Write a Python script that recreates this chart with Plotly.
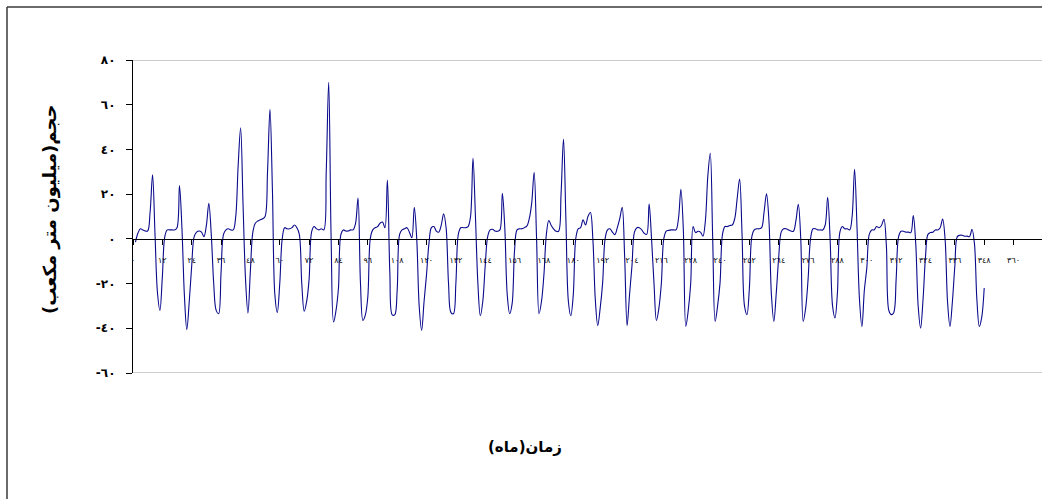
import plotly.graph_objects as go

# Monthly storage change (million cubic metres), months 1..348, one row per year
monthly_change = [
    -1.5, 2.5, 4.5, 4, 3.5, 3.5, 12, 28.6, 2, -24, -32, -17,
    1, 4, 4, 4, 4, 5, 23.8, 5, -25, -40.6, -28, -12,
    1, 3, 3.5, 3, 1, 6, 15.9, 2, -20, -32, -33.5, -15,
    2, 4, 4.5, 4, 4, 10, 33, 49.7, 15, -18, -33.2, -14,
    3, 7, 8, 8.5, 9, 10, 30, 57.9, 22, -25, -32.9, -20,
    0, 5, 4.5, 4.5, 5, 6.2, 5, 2, -20, -32.4, -28, -18,
    3, 5.5, 4.5, 4, 4.5, 4, 30, 70, 0, -37.2, -32, -22,
    2, 4, 3.5, 3.5, 4, 4, 7, 18.2, -20, -36.5, -34, -26,
    0, 4, 5, 5.5, 7, 7.5, 5, 26.3, -15, -34, -34, -23,
    2, 4, 4.5, 5, 3, 0.5, 14.1, 0, -30, -40.9, -28, -16,
    -2, 5, 5.5, 3.5, 3, 6, 11.2, 5, -20, -33, -33.5, -20,
    2, 5, 5, 5, 5.5, 10, 36, 10, -20, -34.4, -28, -12,
    1, 4, 4.3, 3.5, 3.4, 4, 20.4, 5, -25, -33.5, -29, -5,
    4, 4.5, 4.5, 5, 5.7, 9, 16, 29.8, 0, -33.5, -28, -16,
    2, 8.2, 6, 4.4, 3.4, 3.4, 20, 44.6, 8, -28, -34.4, -25,
    0, 4.5, 5, 8.5, 6.2, 10, 11.8, 0, -27, -38.8, -31, -19.7,
    0, 4, 4.5, 3, 1.9, 5, 9, 14.1, -8, -38.8, -25, -12,
    3, 5, 5, 4, 2.5, 2, 15.6, 0, -20, -36.5, -31, -20,
    0, 3.5, 3.8, 4, 4, 4, 9, 22.2, 4, -39.2, -32, -20,
    5.5, 2.8, 3.4, 3, 1.2, 8, 28, 38.3, 0, -36.9, -30, -19.7,
    2, 5.5, 5.5, 6, 6.2, 9, 18, 26.8, 2, -30, -33.9, -22,
    1, 4, 4.5, 4.5, 5, 12, 20.1, 8, -25, -36.9, -24, -8,
    3, 4.5, 4.5, 4, 3.5, 3.4, 8, 15.5, 0, -36.9, -31, -18,
    0, 4.5, 4.5, 4, 4, 4, 6.2, 18.6, 0, -30, -35.4, -24,
    3, 5.5, 4.5, 4.5, 4, 10, 31.1, 5, -27, -39.2, -23, -13,
    2, 4, 4, 5.5, 5, 6, 8.8, -3, -32, -33.9, -33, -18,
    1, 3.4, 3.4, 3, 3, 2.8, 10.4, -2, -30, -39.9, -27, -8,
    2, 2.8, 3, 4, 4, 5, 8.9, 0, -28, -39.2, -28, -12,
    1, 1.6, 1.6, 1.2, 1.2, 1, 4.3, -2, -27, -39.2, -35, -22,
]
months = list(range(1, len(monthly_change) + 1))

x_tick_values = list(range(0, 373, 12))
y_tick_values = [-60, -40, -20, 0, 20, 40, 60, 80]

ARABIC_DIGITS = str.maketrans("0123456789", "٠١٢٣٤٥٦٧٨٩")


def to_arabic(n):
    return str(n).translate(ARABIC_DIGITS)


x_tick_text = [to_arabic(v) for v in x_tick_values]
y_tick_text = [to_arabic(v) for v in y_tick_values]

y_title = "حجم(میلیون متر مکعب)"
x_title = "زمان(ماه)"

FONT = "DejaVu Sans"
W, H = 1042, 500
L, R, T, B = 133, 0, 60, 127
plot_w = W - L - R
plot_h = H - T - B
px_per_month = 2.446
y_min, y_max = -60, 80

fig = go.Figure()
fig.add_trace(go.Scatter(
    x=months, y=monthly_change, mode="lines",
    line=dict(color="#0a0a8c", width=1.1, shape="spline", smoothing=1.0),
    hoverinfo="skip", showlegend=False,
))


def px_x(p):
    return (p - L) / plot_w


def px_y(p):
    return (H - B - p) / plot_h


shapes = [
    # plot-area top and bottom border
    dict(type="line", xref="paper", yref="y", x0=0, x1=1, y0=y_max, y1=y_max,
         line=dict(color="#9a9a9a", width=1)),
    dict(type="line", xref="paper", yref="y", x0=0, x1=1, y0=y_min, y1=y_min,
         line=dict(color="#9a9a9a", width=1)),
    # chart-area frame
    dict(type="line", xref="paper", yref="paper", x0=px_x(7), x1=px_x(7),
         y0=px_y(499), y1=px_y(7), line=dict(color="#3a3a3a", width=1.5)),
    dict(type="line", xref="paper", yref="paper", x0=px_x(7), x1=1.01,
         y0=px_y(7), y1=px_y(7), line=dict(color="#3a3a3a", width=1.5)),
]

fig.update_layout(
    width=W, height=H,
    margin=dict(l=L, r=R, t=T, b=B, pad=0),
    paper_bgcolor="white", plot_bgcolor="white",
    font=dict(family=FONT, color="black"),
    shapes=shapes,
    xaxis=dict(
        range=[0, plot_w / px_per_month],
        tickmode="array", tickvals=x_tick_values, ticktext=x_tick_text,
        tickfont=dict(size=8, family=FONT, color="black"),
        ticks="outside", ticklen=5, tickcolor="black", tickwidth=1,
        ticklabelstandoff=8,
        showline=True, linecolor="black", linewidth=1.2,
        showgrid=False, zeroline=False,
        anchor="free", position=(0 - y_min) / (y_max - y_min),
    ),
    yaxis=dict(
        range=[y_min, y_max],
        tickmode="array", tickvals=y_tick_values, ticktext=y_tick_text,
        tickfont=dict(size=12, family=FONT, color="black", weight="bold"),
        ticks="outside", ticklen=6, tickcolor="black", tickwidth=1,
        ticklabelstandoff=8,
        showline=True, linecolor="black", linewidth=1.2,
        showgrid=False, zeroline=False,
    ),
    annotations=[
        dict(text="<b>" + y_title + "</b>", xref="paper", yref="paper",
             x=px_x(50), y=px_y(210), xanchor="center", yanchor="middle",
             textangle=-90, showarrow=False,
             font=dict(size=18, family=FONT, color="black")),
        dict(text="<b>" + x_title + "</b>", xref="paper", yref="paper",
             x=px_x(525), y=px_y(447), xanchor="center", yanchor="middle",
             showarrow=False,
             font=dict(size=15, family=FONT, color="black")),
    ],
)

fig.write_html("out.html")
